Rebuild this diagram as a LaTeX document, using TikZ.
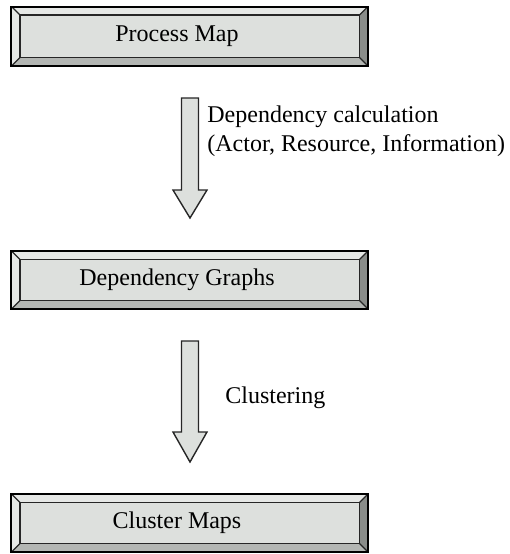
\documentclass[tikz,border=0pt]{standalone}
\usepackage{fontspec}
\setmainfont{Liberation Serif}
\definecolor{face}{HTML}{DDE0DD}
\definecolor{bevlight}{HTML}{E6E8E6}
\definecolor{bevmid}{HTML}{B3B6B3}
\definecolor{bevdark}{HTML}{8A8D8A}
\tikzset{
  bevedge/.style={draw=black!85, line width=0.6pt, line join=miter},
  outeredge/.style={draw=black, line width=1pt},
  boxtext/.style={font=\fontsize{12}{14.4}\selectfont, inner sep=0pt},
  sidetext/.style={font=\fontsize{12}{14.4}\selectfont, inner sep=0pt, anchor=west, align=left},
  blockarrow/.style={draw=black!85, line width=0.7pt, fill=face, line join=miter}
}
\newcommand{\bevbox}[5]{% x1 y1 x2 y2 bevel
  \fill[bevlight] (#1,#2) -- (#3,#2) -- ({#3-#5},{#2+#5}) -- ({#1+#5},{#2+#5}) -- cycle;
  \fill[bevlight] (#1,#2) -- ({#1+#5},{#2+#5}) -- ({#1+#5},{#4-#5}) -- (#1,#4) -- cycle;
  \fill[bevmid] (#1,#4) -- ({#1+#5},{#4-#5}) -- ({#3-#5},{#4-#5}) -- (#3,#4) -- cycle;
  \fill[bevdark] (#3,#2) -- (#3,#4) -- ({#3-#5},{#4-#5}) -- ({#3-#5},{#2+#5}) -- cycle;
  \path[bevedge, fill=face] ({#1+#5},{#2+#5}) rectangle ({#3-#5},{#4-#5});
  \draw[bevedge] (#1,#2) -- ({#1+#5},{#2+#5}) (#3,#2) -- ({#3-#5},{#2+#5})
     (#1,#4) -- ({#1+#5},{#4-#5}) (#3,#4) -- ({#3-#5},{#4-#5});
  \draw[outeredge] (#1,#2) rectangle (#3,#4);
}
\newcommand{\blockarr}[4]{% cx top base tip
  \path[blockarrow] ({#1-8.5},#2) -- ({#1+8.5},#2) -- ({#1+8.5},#3) -- ({#1+17},#3)
     -- (#1,#4) -- ({#1-17},#3) -- ({#1-8.5},#3) -- cycle;
}
\begin{document}
\begin{tikzpicture}[x=0.5pt, y=-0.5pt]
\useasboundingbox (0,0) rectangle (510,554);
% boxes
\bevbox{11.5}{6.5}{368}{66}{8.5}
\bevbox{11.5}{251}{368}{309}{8.5}
\bevbox{11.5}{494}{368}{552}{8.5}
\node[boxtext] (pm) at (177,36) {Process Map};
\node[boxtext] (dg) at (177,280) {Dependency Graphs};
\node[boxtext] (cm) at (177,523) {Cluster Maps};
% arrows
\blockarr{190}{98}{190}{218}
\blockarr{190}{341}{432}{462}
\node[sidetext] (l1) at (207,131) {Dependency calculation\\(Actor, Resource, Information)};
\node[sidetext] (l2) at (225,398) {Clustering};
\end{tikzpicture}
\end{document}
